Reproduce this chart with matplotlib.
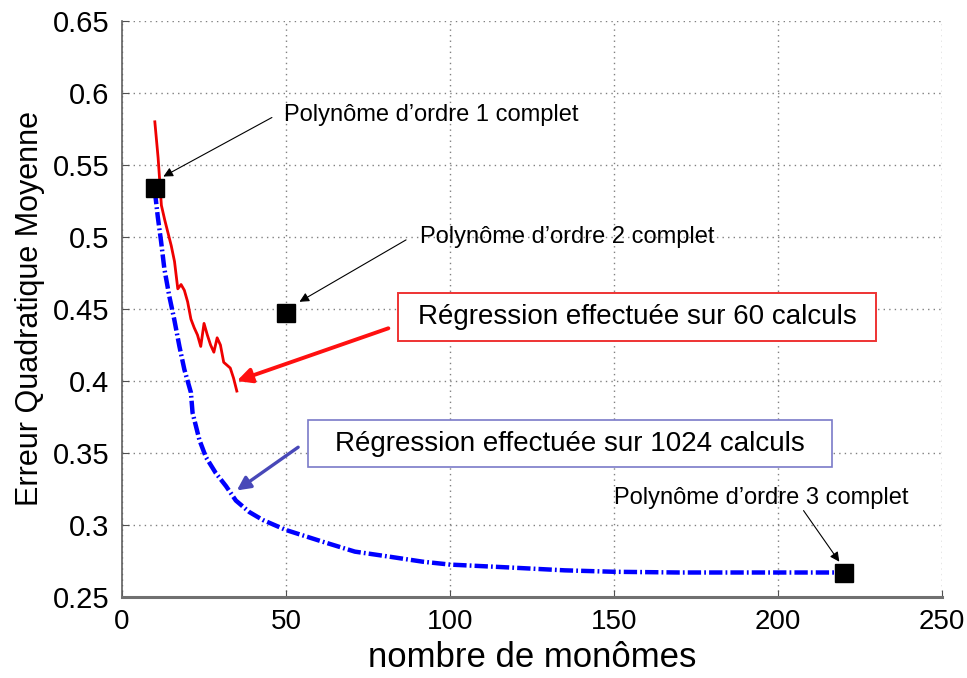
import matplotlib
matplotlib.use("Agg")
import matplotlib.pyplot as plt
from matplotlib.patches import Rectangle

plt.rcParams['font.family'] = ['Liberation Sans', 'DejaVu Sans']

# regression over 60 runs (red)
red_x = [10, 11, 12, 13, 14, 15, 16, 17, 18, 19, 20, 21, 22, 23, 24, 25, 26, 27, 28, 29, 30, 31, 32, 33, 34, 35]
red_y = [0.580, 0.555, 0.522, 0.512, 0.503, 0.494, 0.483, 0.464, 0.467, 0.463, 0.455, 0.443, 0.437, 0.432, 0.424,
         0.440, 0.432, 0.425, 0.420, 0.430, 0.425, 0.413, 0.411, 0.409, 0.402, 0.393]

# regression over 1024 runs (blue)
blue_x = [10, 10.9, 11.9, 12.9, 14.4, 15.9, 17.5, 19, 21, 21.5, 23.6, 25.6, 28.6, 31.7, 34.7, 38.8, 42.9, 50,
          61, 71, 81.5, 91.7, 100, 118, 135, 150, 170, 195, 220]
blue_y = [0.532, 0.514, 0.497, 0.478, 0.459, 0.443, 0.424, 0.408, 0.392, 0.378, 0.359, 0.347, 0.336, 0.327,
          0.317, 0.309, 0.3035, 0.2965, 0.2885, 0.2815, 0.278, 0.2745, 0.2725, 0.2705, 0.2685, 0.2675, 0.267,
          0.267, 0.267]

# complete polynomials of order 1, 2, 3
poly_x = [10, 50, 220]
poly_y = [0.534, 0.447, 0.267]
poly_labels = [u"Polynôme d\u2019ordre 1 complet", u"Polynôme d\u2019ordre 2 complet", u"Polynôme d\u2019ordre 3 complet"]

x_ticks = [0, 50, 100, 150, 200, 250]
y_ticks = [0.25, 0.3, 0.35, 0.4, 0.45, 0.5, 0.55, 0.6, 0.65]
y_ticklabels = ["0.25", "0.3", "0.35", "0.4", "0.45", "0.5", "0.55", "0.6", "0.65"]

fig = plt.figure(figsize=(9.67, 6.78), dpi=100)
ax = fig.add_axes([0.1262, 0.1195, 0.8479, 0.8495])

ax.plot(red_x, red_y, color='#ee0000', lw=2.0, zorder=3)
ax.plot(blue_x, blue_y, color='#0000ff', lw=3.2, linestyle=(0, (3, 0.7, 0.4, 0.7)),
        dash_capstyle='butt', zorder=3)
ax.plot(poly_x, poly_y, linestyle='none', marker='s', markersize=12.5, color='black', zorder=4)

ax.set_xlim(0, 250)
ax.set_ylim(0.25, 0.65)
ax.set_xticks(x_ticks)
ax.set_yticks(y_ticks)
ax.set_yticklabels(y_ticklabels)
ax.grid(True, color='#808080', linestyle=(0, (1, 3)), lw=1)

for s in ['top', 'right']:
    ax.spines[s].set_visible(False)
ax.spines['left'].set_color('#606060')
ax.spines['bottom'].set_color('#707070')
ax.spines['left'].set_linewidth(1.2)
ax.spines['bottom'].set_linewidth(2.2)
ax.tick_params(direction='in', length=5, color='#505050', pad=9)
ax.tick_params(axis='y', labelsize=21)
ax.tick_params(axis='x', labelsize=20)

ax.set_xlabel(u"nombre de monômes", fontsize=25, labelpad=4)
ax.set_ylabel("Erreur Quadratique Moyenne", fontsize=22, labelpad=6)

thin = dict(arrowstyle='-|>', color='black', lw=0.8, mutation_scale=14, shrinkA=0, shrinkB=0)

# polynomial annotations
ax.annotate("", xy=(12.6, 0.542), xytext=(45.7, 0.583), arrowprops=thin)
ax.text(49.5, 0.585, poly_labels[0], fontsize=17, va='center', ha='left')
ax.annotate("", xy=(54.1, 0.455), xytext=(86.6, 0.498), arrowprops=thin)
ax.text(91, 0.500, poly_labels[1], fontsize=17, va='center', ha='left')
ax.annotate("", xy=(218.7, 0.2745), xytext=(207.8, 0.310), arrowprops=thin)
ax.text(150, 0.319, poly_labels[2], fontsize=17, va='center', ha='left')

# boxed captions for the two regressions
ax.add_patch(Rectangle((84.1, 0.428), 145.8, 0.0333, facecolor='white', edgecolor='#ee3333', lw=1.4, zorder=5))
ax.text(157, 0.4447, u"Régression effectuée sur 60 calculs", fontsize=20, ha='center', va='center', zorder=6)
ax.annotate("", xy=(35, 0.400), xytext=(81.2, 0.4366),
            arrowprops=dict(arrowstyle='-|>', color='#ff1010', lw=2.8, mutation_scale=22, shrinkA=0, shrinkB=0))

ax.add_patch(Rectangle((56.6, 0.340), 159.9, 0.033, facecolor='white', edgecolor='#7a7ac8', lw=1.2, zorder=5))
ax.text(136.5, 0.3565, u"Régression effectuée sur 1024 calculs", fontsize=20, ha='center', va='center', zorder=6)
ax.annotate("", xy=(35, 0.324), xytext=(53.7, 0.354),
            arrowprops=dict(arrowstyle='-|>', color='#4848b8', lw=2.4, mutation_scale=20, shrinkA=0, shrinkB=0))

fig.savefig("out.png", dpi=100)
